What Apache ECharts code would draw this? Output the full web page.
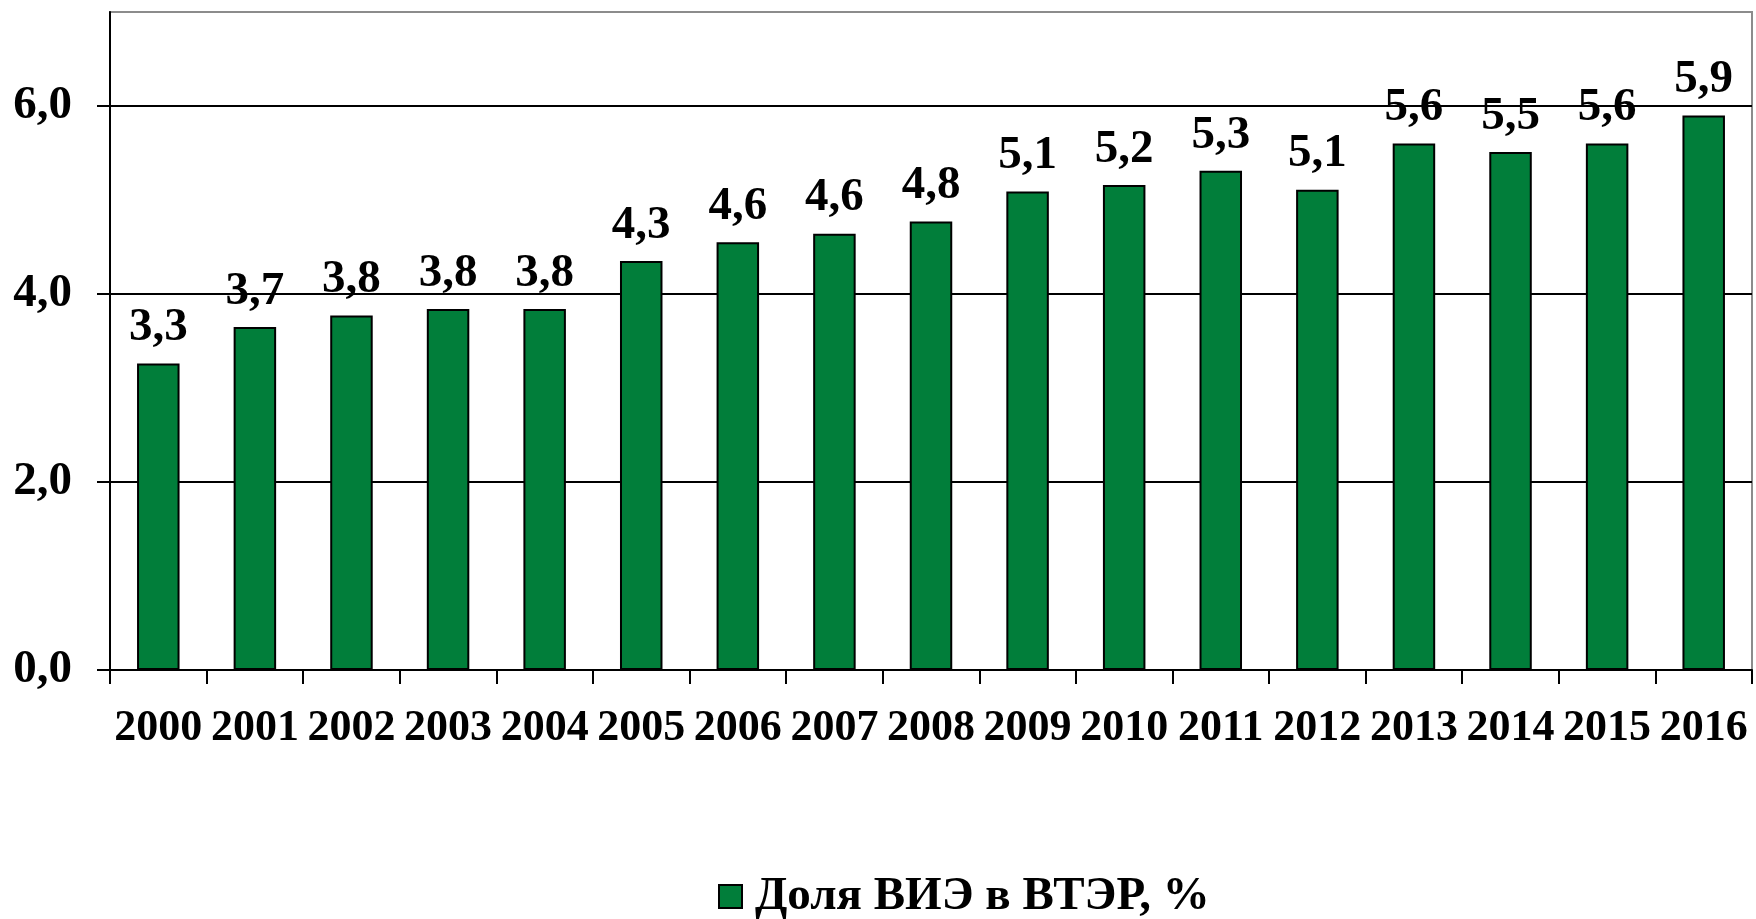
<!DOCTYPE html>
<html>
<head>
<meta charset="utf-8">
<script src="https://cdn.jsdelivr.net/npm/echarts@6/dist/echarts.min.js"></script>
<style>
html,body{margin:0;padding:0;background:#fff;}
#chart{width:1756px;height:919px;}
</style>
</head>
<body>
<div id="chart"></div>
<script>
// Доля ВИЭ в ВТЭР
var years = ['2000','2001','2002','2003','2004','2005','2006','2007','2008','2009','2010','2011','2012','2013','2014','2015','2016'];
var shares = [3.26, 3.65, 3.77, 3.84, 3.84, 4.35, 4.55, 4.64, 4.77, 5.09, 5.16, 5.31, 5.11, 5.6, 5.51, 5.6, 5.9];
var shareLabels = ['3,3','3,7','3,8','3,8','3,8','4,3','4,6','4,6','4,8','5,1','5,2','5,3','5,1','5,6','5,5','5,6','5,9'];
var yTicks = [0, 2, 4, 6];
var seriesName = 'Доля ВИЭ в ВТЭР, %';

var font = 'Liberation Serif, Times New Roman, serif';

var dom = document.getElementById('chart');
var myChart = echarts.init(dom);
var option = {
	animation: false,
	backgroundColor: '#fff',
	grid: {
		left: 110,
		right: 4,
		top: 12,
		bottom: 249,
		show: true,
		borderColor: '#8c8c8c',
		borderWidth: 2
	},
	legend: {
		left: 713,
		top: 868,
		icon: 'rect',
		itemWidth: 23,
		itemHeight: 23,
		itemStyle: {borderColor: '#000', borderWidth: 2},
		textStyle: {fontFamily: font, fontWeight: 'bold', fontSize: 47, color: '#000', padding: [0, 0, 0, 8]},
		data: [seriesName]
	},
	xAxis: {
		type: 'category',
		data: years,
		axisLine: {lineStyle: {color: '#000', width: 2}},
		axisTick: {show: true, length: 14, lineStyle: {color: '#000', width: 2}},
		axisLabel: {
			color: '#000', fontFamily: font, fontWeight: 'bold', fontSize: 44,
			margin: 37, interval: 0
		}
	},
	yAxis: {
		type: 'value',
		min: 0,
		max: 7,
		interval: 2,
		axisLine: {show: true, lineStyle: {color: '#000', width: 2}},
		axisTick: {show: true, length: 13, customValues: yTicks, lineStyle: {color: '#000', width: 2}},
		splitLine: {lineStyle: {color: ['#000', '#000', '#000', '#000', '#8c8c8c'], width: 2}},
		axisLabel: {
			color: '#000', fontFamily: font, fontWeight: 'bold', fontSize: 47, margin: 38,
			customValues: yTicks,
			formatter: function (v) {
				return v.toFixed(1).replace('.', ',');
			}
		}
	},
	series: [{
		name: seriesName,
		type: 'bar',
		data: shares,
		barCategoryGap: '56%',
		itemStyle: {color: '#017e3a', borderColor: '#000', borderWidth: 2},
		label: {
			show: true,
			position: 'top',
			distance: 12,
			color: '#000',
			fontFamily: font,
			fontWeight: 'bold',
			fontSize: 47,
			formatter: function (p) { return shareLabels[p.dataIndex]; }
		}
	}]
};
myChart.setOption(option, true);
</script>
</body>
</html>
